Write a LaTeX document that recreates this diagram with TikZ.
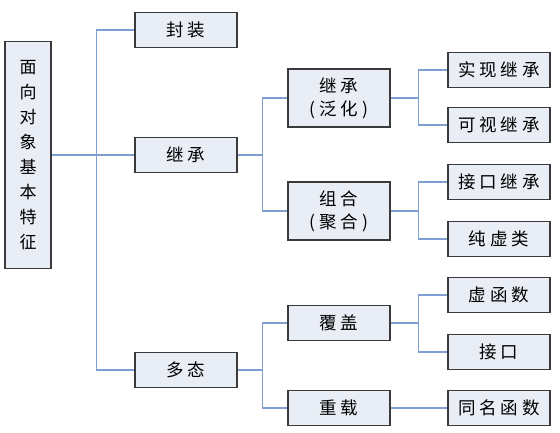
\documentclass[tikz,border=0pt]{standalone}
\usepackage{fontspec}
\setmainfont{Noto Sans CJK SC}
\usepackage{xcolor}
\usepackage{tikz}
\definecolor{boxfill}{HTML}{E9EDF5}
\definecolor{boxline}{HTML}{3A3A3A}
\definecolor{linkline}{HTML}{7F9FD2}
\tikzstyle{rootbox} = [rectangle, minimum width=46, minimum height=227, text width=30, align=center, draw=boxline, line width=1.3, fill=boxfill, font=\fontsize{17}{25}\selectfont, inner sep=0]
\tikzstyle{item} = [rectangle, minimum width=102, minimum height=35, align=center, draw=boxline, line width=1.3, fill=boxfill, font=\fontsize{17.5}{23}\selectfont\addfontfeature{LetterSpace=22}, inner sep=0]
\tikzstyle{itemtall} = [item, minimum height=58]
\tikzstyle{link} = [draw=linkline, line width=1.4]
\begin{document}
\begin{tikzpicture}[x=1pt, y=-1pt]
		\useasboundingbox (0,0) rectangle (560,432);
		\node (root) [rootbox] at (28,155) {面\\向\\对\\象\\基\\本\\特\\征};
		\node (fz) [item] at (186,30) {封装};
		\node (jc) [item] at (186,155) {继承};
		\node (dt) [item] at (186,370) {多态};
		\node (fh) [itemtall] at (339,98) {继承\\(泛化)};
		\node (zh) [itemtall] at (339,211) {组合\\(聚合)};
		\node (fg) [item] at (339,323) {覆盖};
		\node (cz) [item] at (339,408) {重载};
		\node (sxjc) [item] at (499,70) {实现继承};
		\node (ksjc) [item] at (499,125) {可视继承};
		\node (jkjc) [item] at (499,182) {接口继承};
		\node (cxl) [item] at (499,239) {纯虚类};
		\node (xhs) [item] at (499,295) {虚函数};
		\node (jk) [item] at (499,352) {接口};
		\node (tmhs) [item] at (499,408) {同名函数};
		\draw [link] (root.east) -- ++(45,0) |- (fz.west);
		\draw [link] (root.east) -- (jc.west);
		\draw [link] (root.east) -- ++(45,0) |- (dt.west);
		\draw [link] (jc.east) -- ++(25,0) |- (fh.west);
		\draw [link] (jc.east) -- ++(25,0) |- (zh.west);
		\draw [link] (dt.east) -- ++(25,0) |- (fg.west);
		\draw [link] (dt.east) -- ++(25,0) |- (cz.west);
		\draw [link] (fh.east) -- ++(28,0) |- (sxjc.west);
		\draw [link] (fh.east) -- ++(28,0) |- (ksjc.west);
		\draw [link] (zh.east) -- ++(28,0) |- (jkjc.west);
		\draw [link] (zh.east) -- ++(28,0) |- (cxl.west);
		\draw [link] (fg.east) -- ++(28,0) |- (xhs.west);
		\draw [link] (fg.east) -- ++(28,0) |- (jk.west);
		\draw [link] (cz.east) -- (tmhs.west);
	\end{tikzpicture}
\end{document}
